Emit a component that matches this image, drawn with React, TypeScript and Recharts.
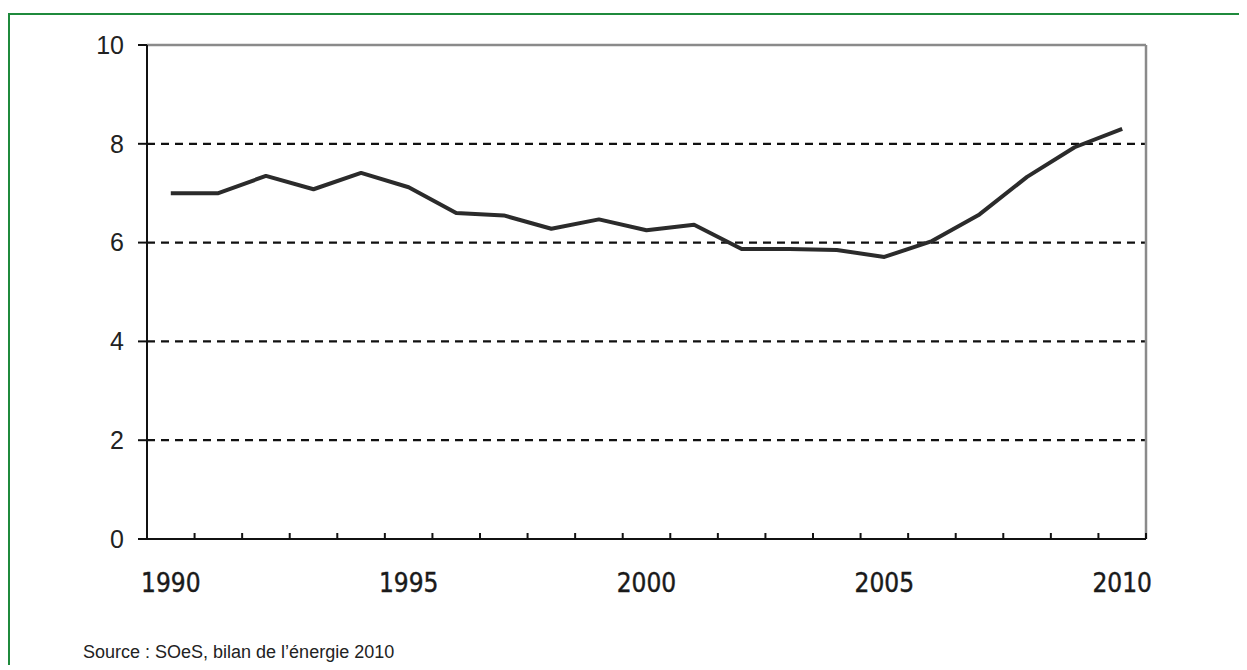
import { LineChart, Line, XAxis, YAxis, CartesianGrid, ReferenceLine } from "recharts";

// yearly values
const years = [
  1990, 1991, 1992, 1993, 1994, 1995, 1996, 1997, 1998, 1999, 2000,
  2001, 2002, 2003, 2004, 2005, 2006, 2007, 2008, 2009, 2010,
];
const values = [
  7.0, 7.0, 7.35, 7.08, 7.41, 7.12, 6.6, 6.55, 6.28, 6.47, 6.25,
  6.36, 5.87, 5.87, 5.85, 5.71, 6.03, 6.57, 7.33, 7.93, 8.3,
];
const yearLabels = [1990, 1995, 2000, 2005, 2010];
const yTicks = [0, 2, 4, 6, 8, 10];
const gridValues = [2, 4, 6, 8];

const data = years.map((year, i) => ({ year, value: values[i] }));

// tick marks sit between the years, labels sit on the years
const boundaries = [...years.map((y) => y - 0.5), years[years.length - 1] + 0.5];
const xTicks = [...boundaries, ...yearLabels].sort((a, b) => a - b);

const XTick = (props: any) => {
  const { x, y, payload } = props;
  const v = payload.value;
  if (yearLabels.includes(v)) {
    return (
      <text
        x={x}
        y={y + 53}
        textAnchor="middle"
        fontFamily="'DejaVu Sans Condensed', 'DejaVu Sans', sans-serif"
        fontSize={26}
        fill="#1a1a1a"
        stroke="#1a1a1a"
        strokeWidth={0.4}
      >
        {v}
      </text>
    );
  }
  return <line x1={x} x2={x} y1={y} y2={y - 6} stroke="#111" strokeWidth={2} />;
};

export default function App() {
  return (
    <div
      style={{
        position: "relative",
        marginTop: 5,
        width: 1237,
        height: 650,
        borderTop: "2px solid #1f8a3c",
        borderLeft: "2px solid #1f8a3c",
        background: "#fff",
      }}
    >
      <LineChart
        width={1200}
        height={620}
        data={data}
        margin={{ top: 30, right: 64, left: 0, bottom: 36 }}
      >
        <CartesianGrid
          horizontal
          vertical={false}
          horizontalValues={gridValues}
          stroke="#111"
          strokeWidth={2.2}
          strokeDasharray="8 6"
        />
        <XAxis
          dataKey="year"
          type="number"
          domain={[1989.5, 2010.5]}
          ticks={xTicks}
          interval={0}
          height={60}
          tickLine={false}
          tickSize={0}
          tickMargin={0}
          axisLine={{ stroke: "#111", strokeWidth: 2 }}
          tick={<XTick />}
        />
        <YAxis
          domain={[0, 10]}
          ticks={yTicks}
          width={137}
          tickSize={9}
          tickMargin={14}
          axisLine={{ stroke: "#111", strokeWidth: 2 }}
          tickLine={{ stroke: "#111", strokeWidth: 2 }}
          tick={{ fontFamily: "'Liberation Sans', Arial, sans-serif", fontSize: 25, fill: "#222" }}
        />
        <ReferenceLine y={10} stroke="#8a8a8a" strokeWidth={2.5} />
        <ReferenceLine x={2010.5} stroke="#8a8a8a" strokeWidth={2.5} />
        <Line
          type="linear"
          dataKey="value"
          stroke="#2b2b2b"
          strokeWidth={4}
          strokeLinejoin="round"
          dot={false}
          isAnimationActive={false}
        />
      </LineChart>
      <div
        style={{
          position: "absolute",
          left: 73,
          top: 627,
          fontFamily: "'Liberation Sans', Arial, sans-serif",
          fontSize: 18,
          color: "#222",
          whiteSpace: "nowrap",
        }}
      >
        Source : SOeS, bilan de l’énergie 2010
      </div>
    </div>
  );
}
